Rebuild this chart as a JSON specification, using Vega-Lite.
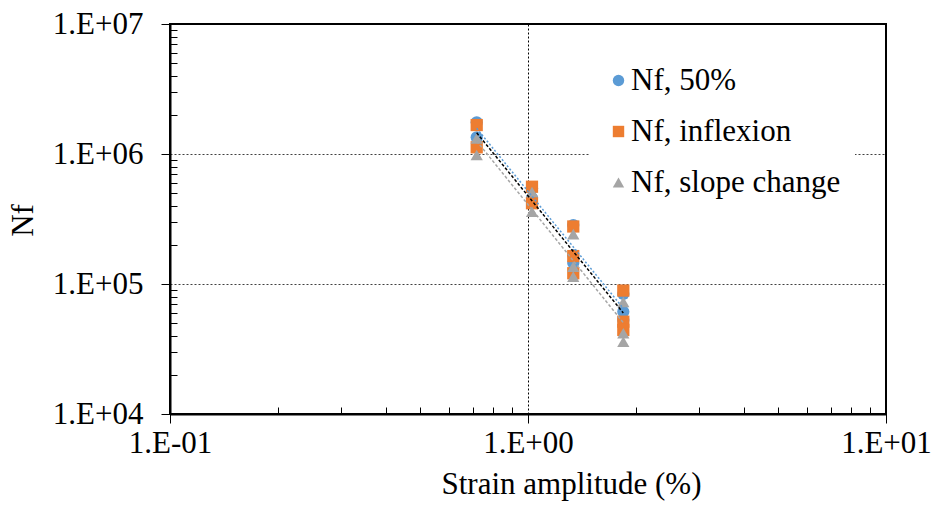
{
  "$schema": "https://vega.github.io/schema/vega-lite/v6.json",
  "width": 716,
  "height": 390,
  "autosize": {"type": "none"},
  "padding": {"left": 170, "top": 24, "right": 49, "bottom": 111},
  "background": "white",
  "config": {
    "view": {"stroke": "black", "strokeWidth": 2},
    "font": "Liberation Serif"
  },
  "datasets": {
    "pts": [
      {"series": "Nf, 50%", "strain": 0.719, "nf": 1753000},
      {"series": "Nf, 50%", "strain": 0.719, "nf": 1344000},
      {"series": "Nf, 50%", "strain": 1.026, "nf": 545000},
      {"series": "Nf, 50%", "strain": 1.026, "nf": 459000},
      {"series": "Nf, 50%", "strain": 1.338, "nf": 284000},
      {"series": "Nf, 50%", "strain": 1.338, "nf": 167000},
      {"series": "Nf, 50%", "strain": 1.338, "nf": 145000},
      {"series": "Nf, 50%", "strain": 1.846, "nf": 83800},
      {"series": "Nf, 50%", "strain": 1.846, "nf": 61200},
      {"series": "Nf, 50%", "strain": 1.846, "nf": 52800},
      {"series": "Nf, inflexion", "strain": 0.719, "nf": 1670000},
      {"series": "Nf, inflexion", "strain": 0.719, "nf": 1126000},
      {"series": "Nf, inflexion", "strain": 1.026, "nf": 560000},
      {"series": "Nf, inflexion", "strain": 1.026, "nf": 418000},
      {"series": "Nf, inflexion", "strain": 1.338, "nf": 277000},
      {"series": "Nf, inflexion", "strain": 1.338, "nf": 164000},
      {"series": "Nf, inflexion", "strain": 1.338, "nf": 121000},
      {"series": "Nf, inflexion", "strain": 1.846, "nf": 89000},
      {"series": "Nf, inflexion", "strain": 1.846, "nf": 51300},
      {"series": "Nf, inflexion", "strain": 1.846, "nf": 44300},
      {"series": "Nf, slope change", "strain": 0.719, "nf": 1320000},
      {"series": "Nf, slope change", "strain": 0.719, "nf": 982000},
      {"series": "Nf, slope change", "strain": 1.026, "nf": 510000},
      {"series": "Nf, slope change", "strain": 1.026, "nf": 360000},
      {"series": "Nf, slope change", "strain": 1.338, "nf": 242000},
      {"series": "Nf, slope change", "strain": 1.338, "nf": 136000},
      {"series": "Nf, slope change", "strain": 1.338, "nf": 114000},
      {"series": "Nf, slope change", "strain": 1.846, "nf": 72700},
      {"series": "Nf, slope change", "strain": 1.846, "nf": 41800},
      {"series": "Nf, slope change", "strain": 1.846, "nf": 36000}
    ]
  },
  "data": {"name": "pts"},
  "layer": [
    {
      "mark": {"type": "point", "filled": true, "size": 150, "opacity": 1},
      "encoding": {
        "x": {
          "field": "strain", "type": "quantitative",
          "scale": {"type": "log", "domain": [0.1, 10], "nice": false},
          "axis": {
            "orient": "bottom", "values": [0.1, 1, 10],
            "labelExpr": "datum.value < 0.5 ? '1.E-01' : datum.value < 5 ? '1.E+00' : '1.E+01'",
            "grid": false, "tickSize": 9, "tickColor": "black", "tickWidth": 1,
            "domainColor": "black", "domainWidth": 2,
            "labelFont": "Liberation Serif", "labelFontSize": 31, "labelColor": "black",
            "labelPadding": 5, "labelFlush": false, "labelOverlap": false,
            "title": "Strain amplitude (%)", "titleFont": "Liberation Serif", "titleFontSize": 31,
            "titleFontWeight": "normal", "titleColor": "black",
            "titleX": 401, "titleY": 79, "titleBaseline": "alphabetic", "titleAlign": "center"
          }
        },
        "y": {
          "field": "nf", "type": "quantitative",
          "scale": {"type": "log", "domain": [10000, 10000000], "nice": false},
          "axis": {
            "orient": "left", "values": [10000, 100000, 1000000, 10000000],
            "labelExpr": "datum.value < 30000 ? '1.E+04' : datum.value < 300000 ? '1.E+05' : datum.value < 3000000 ? '1.E+06' : '1.E+07'",
            "grid": false, "tickSize": 9, "tickColor": "black", "tickWidth": 1,
            "domainColor": "black", "domainWidth": 2,
            "labelFont": "Liberation Serif", "labelFontSize": 31, "labelColor": "black",
            "labelPadding": 18, "labelFlush": false, "labelOverlap": false,
            "title": "Nf", "titleFont": "Liberation Serif", "titleFontSize": 31,
            "titleFontWeight": "normal", "titleColor": "black",
            "titleX": -138, "titleY": 196, "titleAngle": 270,
            "titleBaseline": "alphabetic", "titleAlign": "center"
          }
        },
        "color": {
          "field": "series", "type": "nominal",
          "scale": {"domain": ["Nf, 50%", "Nf, inflexion", "Nf, slope change"], "range": ["#5B9BD5", "#ED7D31", "#A5A5A5"]},
          "legend": {
            "orient": "none", "legendX": 419, "legendY": 27, "title": null,
            "labelFont": "Liberation Serif", "labelFontSize": 31, "labelColor": "black",
            "symbolSize": 130, "rowPadding": 19, "fillColor": "white", "padding": 14,
            "labelOffset": -3, "symbolStrokeWidth": 0, "labelLimit": 400
          }
        },
        "shape": {
          "field": "series", "type": "nominal",
          "scale": {"domain": ["Nf, 50%", "Nf, inflexion", "Nf, slope change"], "range": ["circle", "square", "triangle-up"]},
          "legend": {
            "orient": "none", "legendX": 419, "legendY": 27, "title": null,
            "labelFont": "Liberation Serif", "labelFontSize": 31, "labelColor": "black",
            "symbolSize": 130, "rowPadding": 19, "fillColor": "white", "padding": 14,
            "labelOffset": -3, "symbolStrokeWidth": 0, "labelLimit": 400
          }
        }
      }
    },
    {
      "transform": [
        {"filter": "datum.series == 'Nf, 50%'"},
        {"regression": "nf", "on": "strain", "method": "pow"}
      ],
      "mark": {"type": "line", "color": "#5B9BD5", "strokeDash": [2, 2], "strokeWidth": 1.5},
      "encoding": {
        "x": {
          "field": "strain", "type": "quantitative",
          "scale": {"type": "log", "domain": [0.1, 10], "nice": false},
          "axis": {
            "orient": "bottom", "values": [0.2, 0.3, 0.4, 0.5, 0.6, 0.7, 0.8, 0.9, 2, 3, 4, 5, 6, 7, 8, 9],
            "labels": false, "domain": false, "grid": false,
            "tickSize": 7, "offset": -7, "tickColor": "black", "tickWidth": 1, "title": null
          }
        },
        "y": {
          "field": "nf", "type": "quantitative",
          "scale": {"type": "log", "domain": [10000, 10000000], "nice": false},
          "axis": {
            "orient": "left",
            "values": [20000, 30000, 40000, 50000, 60000, 70000, 80000, 90000, 200000, 300000, 400000, 500000, 600000, 700000, 800000, 900000, 2000000, 3000000, 4000000, 5000000, 6000000, 7000000, 8000000, 9000000],
            "labels": false, "domain": false, "grid": false,
            "tickSize": 7, "offset": -7, "tickColor": "black", "tickWidth": 1, "title": null
          }
        }
      }
    },
    {
      "transform": [
        {"filter": "datum.series == 'Nf, inflexion'"},
        {"regression": "nf", "on": "strain", "method": "pow"}
      ],
      "mark": {"type": "line", "color": "black", "strokeDash": [3, 2], "strokeWidth": 1.5},
      "encoding": {
        "x": {
          "field": "strain", "type": "quantitative",
          "scale": {"type": "log", "domain": [0.1, 10], "nice": false},
          "axis": {
            "orient": "bottom", "values": [1], "labels": false, "ticks": false, "domain": false,
            "grid": true, "gridColor": "black", "gridDash": [2, 2], "gridWidth": 1, "title": null
          }
        },
        "y": {
          "field": "nf", "type": "quantitative",
          "scale": {"type": "log", "domain": [10000, 10000000], "nice": false},
          "axis": {
            "orient": "left", "values": [100000, 1000000], "labels": false, "ticks": false, "domain": false,
            "grid": true, "gridColor": "#404040", "gridDash": [2, 2], "gridWidth": 1, "title": null
          }
        }
      }
    },
    {
      "transform": [
        {"filter": "datum.series == 'Nf, slope change'"},
        {"regression": "nf", "on": "strain", "method": "pow"}
      ],
      "mark": {"type": "line", "color": "#A5A5A5", "strokeDash": [3, 2], "strokeWidth": 1.5},
      "encoding": {
        "x": {"field": "strain", "type": "quantitative", "scale": {"type": "log", "domain": [0.1, 10], "nice": false}, "axis": null},
        "y": {"field": "nf", "type": "quantitative", "scale": {"type": "log", "domain": [10000, 10000000], "nice": false}, "axis": null}
      }
    }
  ],
  "resolve": {"axis": {"x": "independent", "y": "independent"}}
}
